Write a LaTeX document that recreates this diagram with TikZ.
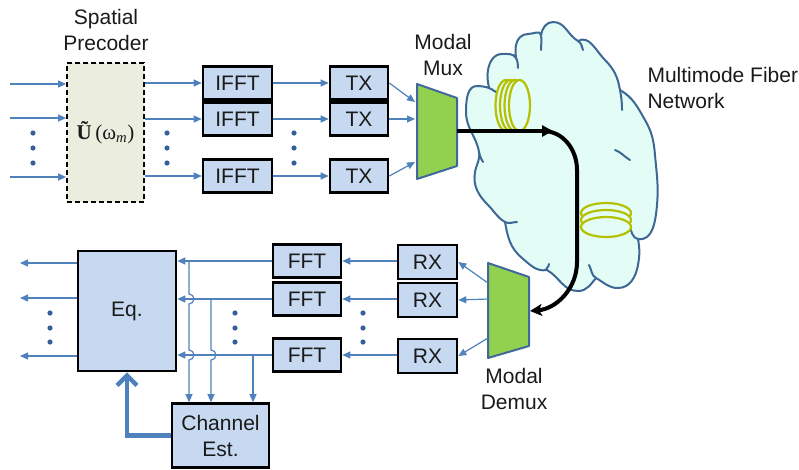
\documentclass[tikz,border=0pt]{standalone}
\usepackage{fontspec}
\setmainfont{Liberation Sans}
\newfontfamily\serifu{Liberation Serif}
\usetikzlibrary{arrows.meta}
\definecolor{boxblue}{HTML}{C6D9F0}
\definecolor{arrowblue}{HTML}{4F81BD}
\definecolor{dotblue}{HTML}{35609A}
\definecolor{precol}{HTML}{EBEEDF}
\definecolor{cloudfill}{HTML}{E3FCF5}
\definecolor{cloudedge}{HTML}{3D6895}
\definecolor{muxgreen}{HTML}{92D050}
\definecolor{muxedge}{HTML}{41689A}
\definecolor{coil}{HTML}{B5C000}
\definecolor{txt}{HTML}{1A1A1A}
\begin{document}
\begin{tikzpicture}[x=1pt,y=1pt,
  font=\fontsize{21}{26}\selectfont, text=txt,
  box/.style={draw=black,line width=2.6pt,fill=boxblue,inner sep=0pt,minimum height=33pt},
  sig/.style={draw=arrowblue,line width=1.2pt,-{Triangle[length=8pt,width=7pt]}},
  dotc/.style={fill=dotblue},
  cloudst/.style={draw=cloudedge,line width=2pt,fill=cloudfill},
  hook/.style={draw=cloudedge,line width=2pt,line cap=round},
  coilst/.style={draw=coil,line width=2.2pt,fill=cloudfill},
  muxst/.style={draw=muxedge,line width=2pt,fill=muxgreen,line join=round},
  fib/.style={draw=black,line width=4pt}]
\useasboundingbox (0,0) rectangle (799,-469);

% ---------- cloud ----------
\path[cloudst] (479,-152)
  to[out=100,in=-90] (466,-112) to[out=90,in=175] (478,-86) to[out=-5,in=160] (489,-88)
  to[out=100,in=-100] (488,-70) to[out=80,in=180] (502,-54) to[out=0,in=120] (516,-58)
  to[out=95,in=-100] (516,-45) to[out=80,in=180] (528,-34) to[out=0,in=100] (541,-35)
  to[out=80,in=180] (553,-22) to[out=0,in=150] (578,-41)
  to[out=30,in=135] (605,-60) to[out=-45,in=100] (620,-90)
  to[out=-30,in=120] (645,-120) to[out=-60,in=95] (655,-155)
  to[out=-85,in=85] (657,-205) to[out=-95,in=-10] (638,-239)
  to[out=-80,in=80] (638,-265) to[out=-100,in=0] (618,-288) to[out=180,in=-30] (596,-278)
  to[out=-130,in=0] (578,-291) to[out=180,in=-30] (547,-270)
  to[out=190,in=-40] (522,-258) to[out=140,in=-80] (505,-222)
  to[out=150,in=-45] (488,-205) to[out=135,in=-100] (475,-172) to[out=80,in=-80] cycle;
\draw[hook] (489,-88) to[out=-20,in=170] (499,-93);
\draw[hook] (516,-58) to[out=-60,in=95] (518,-68);
\draw[hook] (541,-35) to[out=-80,in=90] (541,-50);
\draw[hook] (578,-41) to[out=-30,in=110] (583,-50);
\draw[hook] (620,-90) to[out=-80,in=90] (622,-110);
\draw[hook] (615,-150) to[out=-20,in=150] (630,-160);
\draw[hook] (638,-239) to[out=170,in=-60] (629,-226);
\draw[hook] (596,-278) to[out=150,in=-60] (589,-265);
\draw[hook] (547,-270) to[out=150,in=-80] (549,-264);
\draw[hook] (505,-222) to[out=-30,in=180] (517,-222);
\draw[hook] (479,-152) to[out=-80,in=120] (483,-162);

% coils
\foreach \cx in {506,510.5,515,519.5}
  \path[coilst] (\cx,-105.5) ellipse[x radius=10.5,y radius=25.5];
\foreach \cy in {213,220,227}
  \path[coilst] (606,-\cy) ellipse[x radius=25,y radius=10];

% ---------- labels ----------
\node[align=center] (lblpre) at (106,-30) {Spatial\\Precoder};
\node[align=center] (lblmux) at (443,-55) {Modal\\Mux};
\node[align=center] (lbldemux) at (514,-389) {Modal\\Demux};
\node[align=left,anchor=west] (lblnet) at (644,-88) {Multimode Fiber\\Network};

% ---------- transmitter ----------
\node[draw=black,dash pattern=on 5pt off 3pt,line width=1.8pt,fill=precol,
      minimum width=77pt,minimum height=139pt,inner sep=0pt] (pre) at (105.5,-132.5)
      {\serifu\fontsize{21}{24}\selectfont{\bfseries Ũ}\,(ω\textsubscript{\itshape m})};
\node[box,minimum width=69pt] (ifft1) at (237.5,-83) {IFFT};
\node[box,minimum width=69pt] (ifft2) at (237.5,-119) {IFFT};
\node[box,minimum width=69pt] (ifft3) at (237.5,-176) {IFFT};
\node[box,minimum width=58pt] (tx1) at (359,-83) {TX};
\node[box,minimum width=58pt] (tx2) at (359,-119) {TX};
\node[box,minimum width=58pt] (tx3) at (359,-176) {TX};

\coordinate (in1) at (10,-84);
\coordinate (in2) at (10,-118);
\coordinate (in3) at (10,-177);
\foreach \i in {1,2,3} {
  \draw[sig] (in\i) -- (in\i -| pre.west);
  \draw[sig] (pre.east |- ifft\i) -- (ifft\i.west);
  \draw[sig] (ifft\i.east) -- (tx\i.west);
}
\foreach \x in {33,167,294}
  \foreach \y in {133,148,163}
    \fill[dotc] (\x,-\y) circle (2.6pt);

% modal mux
\draw[muxst] (417,-84) -- (457,-98) -- (457,-166) -- (417,-179) -- cycle;
\coordinate (m1) at (415,-102);
\coordinate (m2) at (415,-119);
\coordinate (m3) at (415,-162);
\foreach \i in {1,2,3} \draw[sig] (tx\i.east) -- (m\i);

% fiber path
\coordinate (muxout) at (457,-131);
\coordinate (fibhead) at (553,-131);
\coordinate (fibturn) at (543,-131);
\coordinate (demuxin) at (530,-311);
\draw[fib,-{Triangle[length=11pt,width=11pt]}] (muxout) -- (fibhead);
\draw[fib,-{Stealth[length=12pt,width=12pt,inset=3pt]}] (fibturn)
   to[out=0,in=90] (577,-170) -- (577,-262) to[out=-90,in=5] (demuxin);

% ---------- receiver ----------
\draw[muxst] (488,-263) -- (529,-277) -- (529,-346) -- (488,-358) -- cycle;
\node[box,minimum width=59pt,minimum height=34pt] (rx1) at (427.5,-262) {RX};
\node[box,minimum width=59pt,minimum height=34pt] (rx2) at (427.5,-300) {RX};
\node[box,minimum width=59pt,minimum height=34pt] (rx3) at (427.5,-356) {RX};
\node[box,minimum width=68pt] (fft1) at (307,-261) {FFT};
\node[box,minimum width=68pt] (fft2) at (307,-299) {FFT};
\node[box,minimum width=68pt] (fft3) at (307,-355) {FFT};
\node[box,minimum width=98pt,minimum height=120pt] (eq) at (127,-311) {Eq.};
\node[box,minimum width=97pt,minimum height=64pt,align=center] (ce) at (220.5,-435.5) {Channel\\Est.};

\coordinate (d1) at (488,-283);
\coordinate (d2) at (488,-299);
\coordinate (d3) at (488,-338);
\foreach \i in {1,2,3} {
  \draw[sig] (d\i) -- (rx\i.east);
  \draw[sig] (rx\i.west |- fft\i) -- (fft\i.east);
  \draw[sig] (fft\i.west) -- (fft\i.west -| eq.east);
}
\coordinate (o1) at (20,-263);
\coordinate (o2) at (20,-298);
\coordinate (o3) at (20,-356);
\foreach \i in {1,2,3} \draw[sig] (o\i -| eq.west) -- (o\i);

% taps to channel estimator (with jumps)
\coordinate (t1) at (189,-261);
\coordinate (t2) at (211,-299);
\coordinate (t3) at (253,-355);
\draw[sig] (t1) -- (189,-294) arc[start angle=90,end angle=-90,radius=5]
   -- (189,-350) arc[start angle=90,end angle=-90,radius=5] -- (t1 |- ce.north);
\draw[sig] (t2) -- (211,-350) arc[start angle=90,end angle=-90,radius=5] -- (t2 |- ce.north);
\draw[sig] (t3) -- (t3 |- ce.north);

\foreach \x in {50,235,363}
  \foreach \y in {313,328,342}
    \fill[dotc] (\x,-\y) circle (2.6pt);

% channel estimate feedback
\draw[draw=arrowblue,line width=4.5pt,-{Straight Barb[length=10pt,width=20pt]}]
   (ce.west) -| (eq.south);
\end{tikzpicture}
\end{document}
